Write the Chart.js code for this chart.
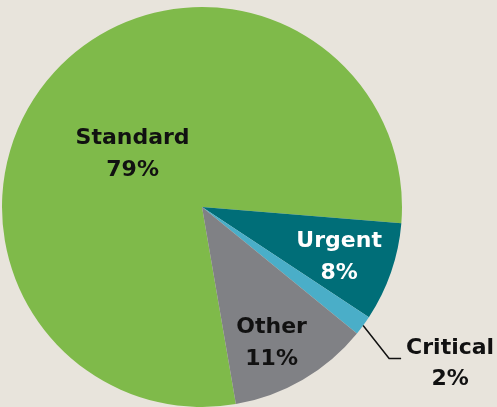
<!DOCTYPE html>
<html>
<head>
<meta charset="utf-8">
<script src="https://cdn.jsdelivr.net/npm/chart.js@4/dist/chart.umd.min.js"></script>
<style>
  html, body { margin: 0; padding: 0; background: #e8e4dc; }
  canvas { display: block; }
</style>
</head>
<body>
<canvas id="pieChart" width="497" height="407"></canvas>
<script>
const categories = ['Standard', 'Urgent', 'Critical', 'Other'];
const shares = [79, 8, 1.6, 11.4];

const colors = ['#7fba4a', '#006e78', '#4aaec8', '#808185'];
const textColors = ['#111111', '#ffffff', '#111111', '#111111'];
// label placement: fraction of radius along the slice middle, plus a small nudge
const labelRadius = [0.45, 0.72, 0, 0.76];
const labelNudge = [[-3, 8], [1, 3], [0, 0], [-7, 5]];

const total = shares.reduce((a, b) => a + b, 0);
const pct = v => Math.round(v / total * 100) + '%';

const sliceLabels = {
  id: 'sliceLabels',
  afterDatasetsDraw(chart) {
    const { ctx } = chart;
    const arcs = chart.getDatasetMeta(0).data;
    ctx.save();
    ctx.font = 'bold 22px "DejaVu Sans"';
    ctx.textAlign = 'center';
    ctx.textBaseline = 'middle';
    arcs.forEach((arc, i) => {
      const { x, y, startAngle, endAngle, outerRadius } = arc.getProps(['x', 'y', 'startAngle', 'endAngle', 'outerRadius'], true);
      const mid = (startAngle + endAngle) / 2;
      ctx.fillStyle = textColors[i];
      if (labelRadius[i] > 0) {
        const r = outerRadius * labelRadius[i];
        const lx = x + Math.cos(mid) * r + labelNudge[i][0];
        const ly = y + Math.sin(mid) * r + labelNudge[i][1];
        ctx.fillText(categories[i], lx, ly - 16);
        ctx.fillText(pct(shares[i]), lx, ly + 16);
      } else {
        // small slice: leader line out to the right
        const ex = x + Math.cos(mid) * outerRadius;
        const ey = y + Math.sin(mid) * outerRadius;
        const kx = ex + 26, ky = ey + 33;
        ctx.strokeStyle = '#111111';
        ctx.lineWidth = 1.5;
        ctx.beginPath();
        ctx.moveTo(ex, ey);
        ctx.lineTo(kx, ky);
        ctx.lineTo(kx + 12, ky);
        ctx.stroke();
        const tx = kx + 61;
        ctx.fillText(categories[i], tx, ky - 10);
        ctx.fillText(pct(shares[i]), tx, ky + 21);
      }
    });
    ctx.restore();
  }
};

new Chart(document.getElementById('pieChart'), {
  type: 'pie',
  data: {
    labels: categories,
    datasets: [{
      data: shares,
      backgroundColor: colors,
      borderWidth: 0
    }]
  },
  options: {
    responsive: false,
    animation: false,
    rotation: 170.25,
    layout: { padding: { left: 2, right: 95, top: 7, bottom: 0 } },
    plugins: {
      legend: { display: false },
      tooltip: { enabled: false }
    }
  },
  plugins: [sliceLabels]
});
</script>
</body>
</html>
